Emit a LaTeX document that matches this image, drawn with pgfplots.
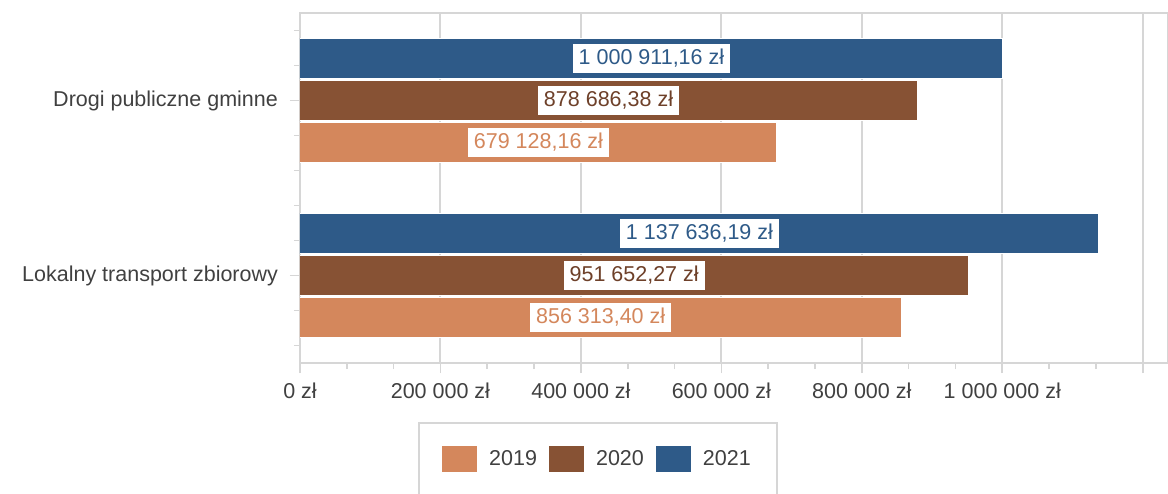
\documentclass[border=0pt]{standalone}
\usepackage{fontspec}
\setmainfont{Liberation Sans}
\usepackage{pgfplots}
\usepackage{pgfplotstable}
\pgfplotsset{compat=1.18}

\definecolor{c19}{HTML}{D4875C}
\definecolor{c20}{HTML}{875234}
\definecolor{c21}{HTML}{2E5A88}
\definecolor{t20}{HTML}{6E4029}
\definecolor{gridc}{HTML}{D6D6D6}
\definecolor{txt}{HTML}{404040}

% y: 0 = Lokalny transport zbiorowy, 1 = Drogi publiczne gminne
\pgfplotstableread[col sep=semicolon]{
y;v;lab
0;856313.40;856 313,40 zł
1;679128.16;679 128,16 zł
}\tabA
\pgfplotstableread[col sep=semicolon]{
y;v;lab
0;951652.27;951 652,27 zł
1;878686.38;878 686,38 zł
}\tabB
\pgfplotstableread[col sep=semicolon]{
y;v;lab
0;1137636.19;1 137 636,19 zł
1;1000911.16;1 000 911,16 zł
}\tabC

\newcommand{\fs}{\fontsize{10.75}{13}\selectfont}

\begin{document}
\begin{tikzpicture}
\begin{axis}[
    name=ax,
    scale only axis,
    width=434pt, height=175pt,
    font=\fs,
    xmin=0, xmax=1236000,
    ymin=-0.5, ymax=1.5,
    xtick={0,200000,400000,600000,800000,1000000,1200000},
    xticklabels={0 zł,200 000 zł,400 000 zł,600 000 zł,800 000 zł,1 000 000 zł,{}},
    minor x tick num=2,
    ytick={0,1},
    yticklabels={Lokalny transport zbiorowy,Drogi publiczne gminne},
    minor ytick={-0.4,-0.2,0.2,0.4,0.6,0.8,1.2,1.4},
    scaled x ticks=false,
    tick pos=left,
    tick align=outside,
    major tick length=5pt,
    minor tick length=3pt,
    every tick/.style={gridc, line width=0.8pt},
    xmajorgrids,
    major x grid style={gridc, line width=1pt},
    axis line style={gridc, line width=1pt},
    ticklabel style={text=txt},
    xticklabel style={yshift=-1.5pt},
    yticklabel style={xshift=-2.5pt},
    legend columns=3,
    legend style={
        at={(0.3433,-0.1686)}, anchor=north,
        draw=gridc, line width=1pt, fill=white,
        inner xsep=11pt, inner ysep=11pt,
        font=\fs, text=txt,
        /tikz/every odd column/.append style={column sep=3.5pt},
        /tikz/every even column/.append style={column sep=3.5pt},
    },
    legend image code/.code={\fill[#1] (0pt,-6.75pt) rectangle (18pt,6.75pt);},
]
\addplot[xbar, bar width=0.234, bar shift=-0.24, fill=c19, draw=white, line width=0.5pt]
    table[x=v, y=y] {\tabA};
\addlegendentry{2019}
\addplot[xbar, bar width=0.234, bar shift=0, fill=c20, draw=white, line width=0.5pt]
    table[x=v, y=y] {\tabB};
\addlegendentry{2020}
\addplot[xbar, bar width=0.234, bar shift=0.24, fill=c21, draw=white, line width=0.5pt]
    table[x=v, y=y] {\tabC};
\addlegendentry{2021}

% value labels in the middle of each bar
\addplot[forget plot, draw=none, mark=none, point meta=explicit symbolic, nodes near coords,
    every node near coord/.append style={anchor=center, fill=white, text=c19, font=\fs, inner xsep=3pt, inner ysep=2.5pt}]
    table[x expr=\thisrow{v}/2, y expr=\thisrow{y}-0.24, meta=lab] {\tabA};
\addplot[forget plot, draw=none, mark=none, point meta=explicit symbolic, nodes near coords,
    every node near coord/.append style={anchor=center, fill=white, text=t20, font=\fs, inner xsep=3pt, inner ysep=2.5pt}]
    table[x expr=\thisrow{v}/2, y expr=\thisrow{y}, meta=lab] {\tabB};
\addplot[forget plot, draw=none, mark=none, point meta=explicit symbolic, nodes near coords,
    every node near coord/.append style={anchor=center, fill=white, text=c21, font=\fs, inner xsep=3pt, inner ysep=2.5pt}]
    table[x expr=\thisrow{v}/2, y expr=\thisrow{y}+0.24, meta=lab] {\tabC};
\end{axis}
\pgfresetboundingbox
\path[use as bounding box] ([shift={(-150pt,-65pt)}]ax.south west) rectangle ([shift={(434pt,181.5pt)}]ax.south west);
\end{tikzpicture}
\end{document}
